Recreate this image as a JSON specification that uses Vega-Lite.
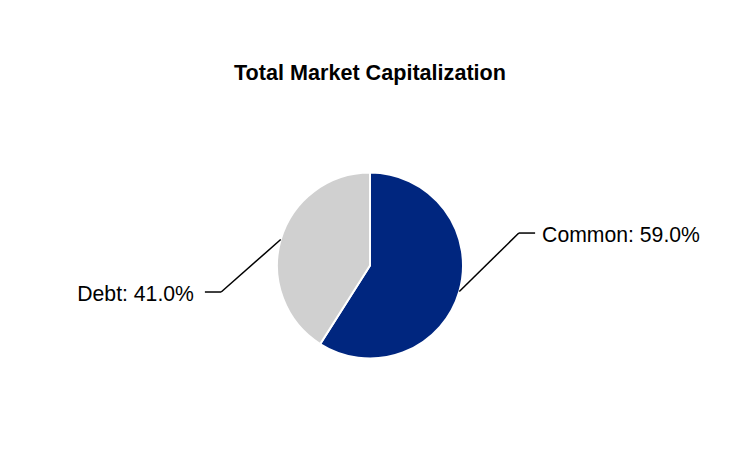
{
  "$schema": "https://vega.github.io/schema/vega-lite/v6.json",
  "width": 740,
  "height": 351,
  "autosize": {"type": "none"},
  "padding": {"top": 90, "bottom": 11, "left": 0, "right": 0},
  "background": "white",
  "config": {"view": {"stroke": null}, "font": "Liberation Sans"},
  "title": {
    "text": "Total Market Capitalization",
    "fontSize": 21.6,
    "fontWeight": "bold",
    "font": "Liberation Sans",
    "color": "#000000",
    "anchor": "middle",
    "baseline": "alphabetic",
    "offset": -12,
    "frame": "group"
  },
  "data": {
    "values": [
      {"category": "Common", "value": 59.0},
      {"category": "Debt", "value": 41.0}
    ]
  },
  "transform": [
    {"joinaggregate": [{"op": "sum", "field": "value", "as": "total"}]},
    {"window": [{"op": "sum", "field": "value", "as": "cum"}], "sort": [{"field": "category", "order": "ascending"}], "frame": [null, 0]},
    {"calculate": "(datum.cum - datum.value / 2) / datum.total * 2 * PI", "as": "mid"},
    {"calculate": "sin(datum.mid)", "as": "x0"},
    {"calculate": "cos(datum.mid)", "as": "y0"},
    {"calculate": "datum.x0 > 0 ? 1 : -1", "as": "side"},
    {"calculate": "datum.x0 + datum.side * 0.64", "as": "ex"},
    {"calculate": "datum.y0 + (datum.side > 0 ? 0.628 : -0.564)", "as": "ey"},
    {"calculate": "datum.ex + datum.side * 0.175", "as": "hx"},
    {"calculate": "datum.category + ': ' + format(datum.value, '.1f') + '%'", "as": "label"}
  ],
  "layer": [
    {
      "mark": {"type": "arc", "outerRadius": 93, "stroke": "white", "strokeWidth": 2},
      "encoding": {
        "theta": {"field": "value", "type": "quantitative", "stack": true},
        "color": {
          "field": "category",
          "type": "nominal",
          "scale": {"domain": ["Common", "Debt"], "range": ["#00267F", "#D0D0D0"]},
          "legend": null
        },
        "order": {"field": "category", "sort": "ascending"}
      }
    },
    {
      "mark": {"type": "rule", "color": "#000000", "strokeWidth": 1.5},
      "encoding": {
        "x": {"field": "x0", "type": "quantitative", "scale": {"domain": [-3.97849, 3.97849], "nice": false, "zero": false}, "axis": null},
        "y": {"field": "y0", "type": "quantitative", "scale": {"domain": [-1.8871, 1.8871], "nice": false, "zero": false}, "axis": null},
        "x2": {"field": "ex"},
        "y2": {"field": "ey"}
      }
    },
    {
      "mark": {"type": "rule", "color": "#000000", "strokeWidth": 1.5},
      "encoding": {
        "x": {"field": "ex", "type": "quantitative", "scale": {"domain": [-3.97849, 3.97849], "nice": false, "zero": false}, "axis": null},
        "y": {"field": "ey", "type": "quantitative", "scale": {"domain": [-1.8871, 1.8871], "nice": false, "zero": false}, "axis": null},
        "x2": {"field": "hx"}
      }
    },
    {
      "transform": [{"filter": "datum.side > 0"}],
      "mark": {"type": "text", "align": "left", "baseline": "middle", "dx": 7, "dy": 3, "fontSize": 21.2, "font": "Liberation Sans", "color": "#000000"},
      "encoding": {
        "x": {"field": "hx", "type": "quantitative", "scale": {"domain": [-3.97849, 3.97849], "nice": false, "zero": false}, "axis": null},
        "y": {"field": "ey", "type": "quantitative", "scale": {"domain": [-1.8871, 1.8871], "nice": false, "zero": false}, "axis": null},
        "text": {"field": "label"}
      }
    },
    {
      "transform": [{"filter": "datum.side < 0"}],
      "mark": {"type": "text", "align": "right", "baseline": "middle", "dx": -11, "dy": 3, "fontSize": 21.2, "font": "Liberation Sans", "color": "#000000"},
      "encoding": {
        "x": {"field": "hx", "type": "quantitative", "scale": {"domain": [-3.97849, 3.97849], "nice": false, "zero": false}, "axis": null},
        "y": {"field": "ey", "type": "quantitative", "scale": {"domain": [-1.8871, 1.8871], "nice": false, "zero": false}, "axis": null},
        "text": {"field": "label"}
      }
    }
  ]
}
